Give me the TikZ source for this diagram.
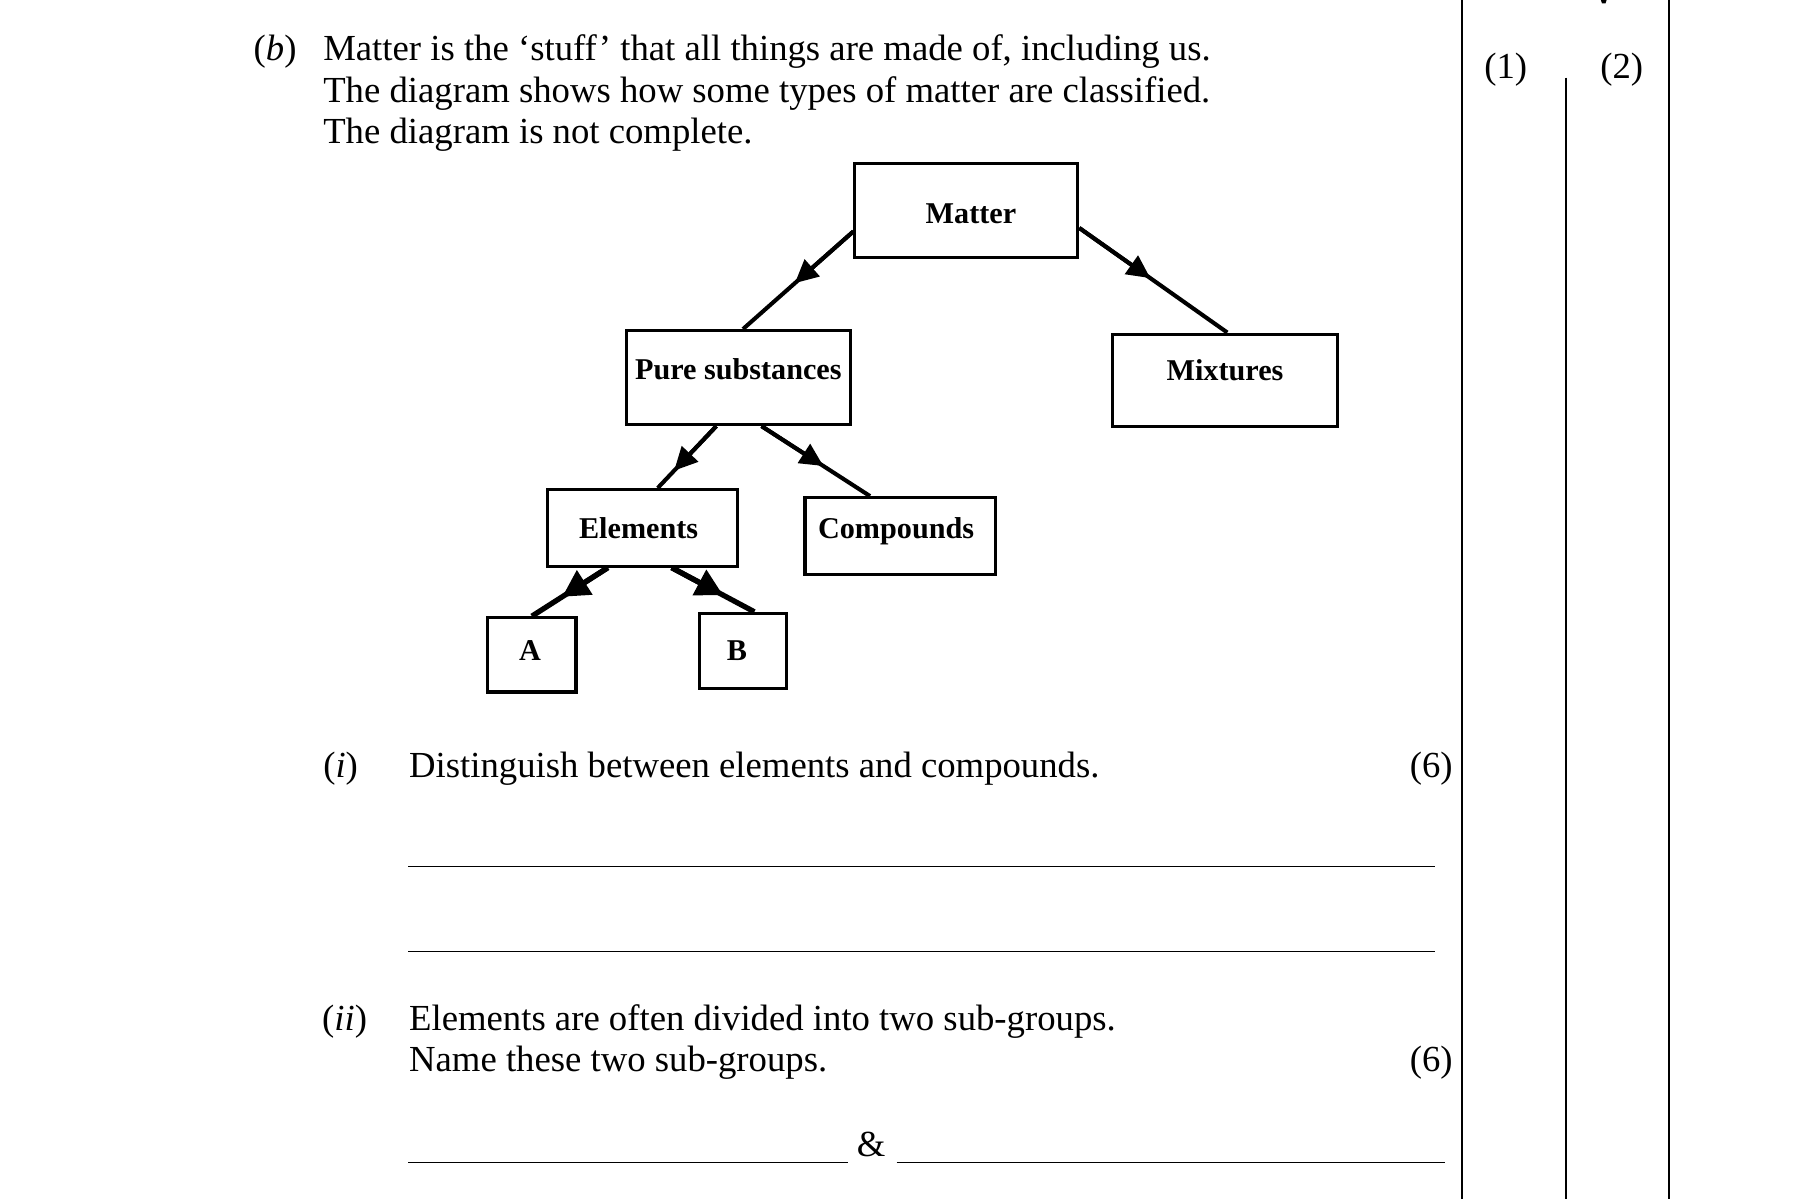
\documentclass[tikz,border=0pt]{standalone}
\usepackage{fontspec}
\setmainfont{Liberation Serif}
\usetikzlibrary{arrows.meta,calc}
\begin{document}
\begin{tikzpicture}[x=0.01cm,y=-0.01cm,
  box/.style={draw, line width=0.75pt, inner sep=0pt, text depth=0pt,
    font=\fontsize{7.4}{8}\selectfont\bfseries},
  txt/.style={inner sep=0pt, anchor=base west, font=\fontsize{9}{10.24}\selectfont},
  conn/.style={line width=1pt},
  tip/.style={-{Triangle[length=0.2cm,width=0.19cm]}, line width=1pt},
  conn2/.style={line width=1.3pt},
  tip2/.style={-{Triangle[length=0.23cm,width=0.24cm]}, line width=1.3pt},
  ans/.style={line width=0.35pt},
  rule/.style={line width=0.45pt}]
\useasboundingbox (0,0) rectangle (1567.2,1033.6);

% text
\node[txt] (qb) at (218,52) {(\textit{b})};
\node[txt] (l1) at (278,52) {Matter is the ‘stuff’ that all things are made of, including us.};
\node[txt] (l2) at (278,88) {The diagram shows how some types of matter are classified.};
\node[txt] (l3) at (278,124) {The diagram is not complete.};
\node[txt, anchor=base] (h1) at (1298,68) {(1)};
\node[txt, anchor=base] (h2) at (1398,68) {(2)};

% boxes
\node[box, minimum width=1.92cm, minimum height=0.81cm, text height=0.22cm] (matter) at (833,181.5) {\hspace*{0.08cm}Matter};
\node[box, minimum width=1.93cm, minimum height=0.81cm, text height=0.04cm] (pure) at (636.5,325.5) {Pure substances};
\node[box, minimum width=1.94cm, minimum height=0.80cm, text height=0cm] (mix) at (1056,328) {Mixtures};
\node[box, minimum width=1.64cm, minimum height=0.66cm, text height=0.18cm] (elem) at (554,455) {Elements\hspace*{0.07cm}};
\node[box, minimum width=1.64cm, minimum height=0.66cm, text height=0.04cm] (comp) at (776,462) {Compounds\hspace*{0.07cm}};
\node[box, minimum width=0.76cm, minimum height=0.64cm, text height=0.09cm] (A) at (458.5,564.5) {A\hspace*{0.03cm}};
\node[box, minimum width=0.75cm, minimum height=0.645cm, text height=0.16cm] (B) at (640.3,561) {B\hspace*{0.1cm}};

% connectors
\coordinate (m1) at ($(matter.west)+(0,18)$);
\coordinate (p1) at ($(pure.north)+(4,0)$);
\draw[conn] (m1) -- (p1);
\draw[tip] (m1) -- ($(m1)!0.53!(p1)$);

\coordinate (m2) at ($(matter.east)+(0,15)$);
\coordinate (x1) at ($(mix.north)+(2,0)$);
\draw[conn] (m2) -- (x1);
\draw[tip] (m2) -- ($(m2)!0.48!(x1)$);

\coordinate (p2) at ($(pure.south)+(-19,0)$);
\coordinate (e1) at ($(elem.north)+(13,0)$);
\draw[conn] (p2) -- (e1);
\draw[tip] (p2) -- ($(p2)!0.72!(e1)$);

\coordinate (p3) at ($(pure.south)+(20,0)$);
\coordinate (c1) at ($(comp.north)+(-26,0)$);
\draw[conn] (p3) -- (c1);
\draw[tip] (p3) -- ($(p3)!0.57!(c1)$);

\coordinate (e2) at ($(elem.south)+(-30,0)$);
\coordinate (a1) at (A.north);
\draw[conn2] (e2) -- (a1);
\draw[tip2] (e2) -- ($(e2)!0.6!(a1)$);

\coordinate (e3) at ($(elem.south)+(25,0)$);
\coordinate (b1) at ($(B.north)+(10,0)$);
\draw[conn2] (e3) -- (b1);
\draw[tip2] (e3) -- ($(e3)!0.62!(b1)$);

% questions
\node[txt] (qi) at (278,670) {(\textit{i})};
\node[txt] (qit) at (352,670) {Distinguish between elements and compounds.};
\node[txt, anchor=base east] (mk1) at (1253,670) {(6)};
\draw[ans] (352,747) -- (1237,747);
\draw[ans] (352,820) -- (1237,820);

\node[txt] (qii) at (277,888) {(\textit{ii})};
\node[txt] (qii1) at (352,888) {Elements are often divided into two sub-groups.};
\node[txt] (qii2) at (352,924) {Name these two sub-groups.};
\node[txt, anchor=base east] (mk2) at (1253,924) {(6)};
\node[txt, anchor=base] (amp) at (751,997) {\&};
\draw[ans] (352,1002) -- (731,1002);
\draw[ans] (773,1002) -- (1246,1002);

% margin rules
\draw[rule] (1260,0) -- (1260,1033.6);
\draw[rule] (1350,67) -- (1350,1033.6);
\draw[rule] (1439,0) -- (1439,1033.6);
\fill (1380,0) -- (1385,0) -- (1384,3) -- (1381,3) -- cycle;
\end{tikzpicture}
\end{document}
